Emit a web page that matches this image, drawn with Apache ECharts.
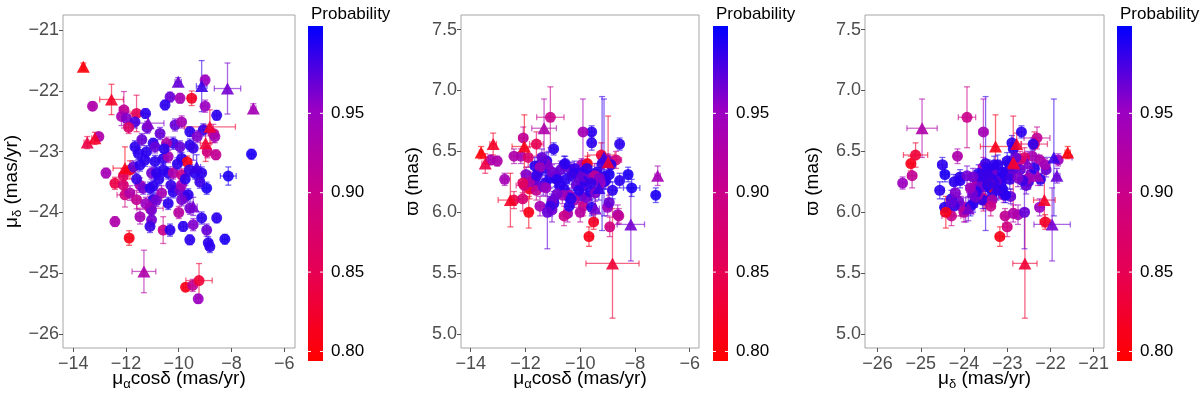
<!DOCTYPE html>
<html>
<head>
<meta charset="utf-8">
<script src="https://cdn.jsdelivr.net/npm/echarts@6.0.0/dist/echarts.min.js"></script>
<style>
  html, body { margin: 0; padding: 0; background: #fff; }
  #chart { width: 1200px; height: 393px; }
</style>
</head>
<body>
<div id="chart"></div>
<script>
// one row per star
const pmra = [-13.62,-13.27,-12.55,-13.47,-13.18,-13.03,-12.08,-12.17,-11.98,-11.60,-11.26,-11.66,-11.16,-10.02,-9.13,-9.00,-8.15,-10.33,-9.95,-10.52,
  -9.51,-9.00,-8.56,-7.17,-10.14,-9.89,-9.58,-9.07,-8.82,-8.69,-8.63,-9.58,-8.98,-8.92,-8.59,-10.21,-10.46,-9.95,-11.66,-11.53,
  -11.22,-10.97,-10.90,-11.28,-10.90,-10.59,-10.40,-9.89,-9.68,-9.45,-7.24,-9.32,-9.13,-9.39,-8.12,-8.94,-12.76,-12.42,-12.04,-11.85,
  -11.72,-11.47,-12.10,-12.04,-11.85,-11.60,-11.47,-11.35,-11.09,-10.97,-11.03,-10.84,-10.59,-10.40,-10.21,-9.89,-10.65,-10.97,-11.09,-11.03,
  -11.47,-11.03,-11.09,-10.21,-9.95,-9.76,-9.64,-10.40,-9.89,-10.59,-10.33,-9.83,-9.58,-9.45,-9.13,-8.94,-8.88,-8.82,-8.56,-8.25,
  -9.58,-9.45,-12.42,-11.88,-11.32,-9.74,-9.47,-9.23,-9.26,-10.71,-9.20,-9.90,-11.20,
  -12.10,-11.90,-10.75,-10.30,-10.05,-9.75,-10.85,-11.25,-10.55,-9.30,-10.00,-11.60,-9.60,-11.40];
const pmraErr = [0.06,0.08,0.45,0.12,0.12,0.10,0.15,0.12,0.15,0.25,0.10,0.10,0.60,0.12,0.20,0.10,0.50,0.10,0.10,0.10,
  0.15,0.10,0.10,0.10,0.12,0.12,0.10,0.12,0.97,0.20,0.12,0.12,0.20,0.12,0.10,0.12,0.12,0.10,0.12,0.12,
  0.12,0.10,0.12,0.12,0.12,0.12,0.12,0.12,0.15,0.12,0.10,0.15,0.12,0.12,0.30,0.10,0.10,0.15,0.45,0.20,
  0.12,0.12,0.15,0.30,0.15,0.15,0.12,0.12,0.12,0.12,0.12,0.12,0.12,0.12,0.12,0.12,0.15,0.12,0.50,0.12,
  0.15,0.12,0.12,0.12,0.12,0.12,0.12,0.12,0.12,0.15,0.12,0.12,0.10,0.12,0.12,0.12,0.12,0.12,0.10,0.10,
  0.12,0.15,0.10,0.12,0.45,0.10,0.10,0.50,0.10,0.12,0.12,0.12,0.12,
  0.15,0.12,0.12,0.12,0.12,0.12,0.12,0.12,0.12,0.12,0.12,0.12,0.12,0.12];
const pmdec = [-21.60,-22.25,-22.14,-22.85,-22.78,-22.75,-22.31,-22.42,-22.45,-22.37,-22.37,-22.51,-22.53,-21.85,-21.92,-21.82,-21.96,-22.10,-22.12,-22.23,
  -22.12,-22.25,-22.40,-22.29,-22.56,-22.51,-22.67,-22.64,-22.59,-22.70,-22.75,-22.89,-22.86,-23.00,-23.05,-22.86,-22.86,-22.92,-22.92,-23.03,
  -23.00,-22.86,-22.92,-23.14,-23.16,-23.11,-23.08,-23.11,-23.17,-22.94,-23.04,-23.25,-23.35,-23.35,-23.40,-23.60,-23.35,-23.52,-23.27,-23.30,
  -23.25,-23.22,-23.55,-23.71,-23.68,-23.79,-23.55,-23.60,-23.60,-23.57,-23.35,-23.35,-23.30,-23.35,-23.35,-23.38,-23.68,-23.79,-23.93,-23.96,
  -24.07,-24.12,-24.23,-23.66,-23.63,-23.74,-23.71,-23.85,-23.79,-24.29,-24.29,-24.23,-24.45,-24.20,-24.09,-24.29,-24.50,-24.56,-24.09,-24.44,
  -23.93,-23.90,-24.15,-24.42,-24.97,-25.23,-25.20,-25.12,-25.42,-22.70,-23.50,-23.55,-22.60,
  -23.40,-22.60,-23.45,-23.55,-23.20,-23.45,-23.80,-23.85,-22.95,-22.75,-24.00,-23.45,-23.30,-22.80];
const pmdecErr = [0.06,0.07,0.25,0.10,0.10,0.06,0.30,0.15,0.10,0.30,0.08,0.10,0.15,0.07,0.42,0.08,0.42,0.08,0.08,0.08,
  0.12,0.10,0.08,0.08,0.10,0.10,0.08,0.10,0.28,0.15,0.10,0.10,0.30,0.10,0.08,0.10,0.10,0.10,0.10,0.10,
  0.10,0.08,0.10,0.10,0.10,0.10,0.10,0.10,0.10,0.20,0.08,0.20,0.10,0.10,0.15,0.10,0.08,0.10,0.35,0.15,
  0.10,0.10,0.15,0.20,0.12,0.15,0.12,0.10,0.10,0.10,0.10,0.10,0.10,0.10,0.10,0.10,0.12,0.10,0.20,0.10,
  0.12,0.10,0.10,0.10,0.10,0.10,0.10,0.10,0.10,0.22,0.10,0.08,0.08,0.10,0.10,0.10,0.10,0.10,0.08,0.08,
  0.10,0.15,0.08,0.12,0.35,0.06,0.10,0.28,0.07,0.10,0.10,0.10,0.10,
  0.12,0.10,0.10,0.10,0.10,0.10,0.10,0.10,0.10,0.10,0.10,0.10,0.10,0.10];
const plx = [6.49,6.43,6.10,6.40,6.56,6.42,6.61,6.46,6.31,6.56,6.36,6.25,6.40,6.30,6.45,6.43,5.90,6.35,6.39,6.27,
  5.92,6.04,6.56,6.30,6.22,6.28,6.66,6.26,5.58,6.43,5.98,6.57,6.41,5.88,5.97,6.36,5.99,6.13,6.38,6.33,
  6.42,6.52,6.30,6.24,6.28,6.19,6.14,6.33,5.80,6.27,6.14,6.20,6.25,6.33,6.20,6.31,6.27,6.10,6.54,6.19,
  6.25,6.39,6.11,6.22,6.25,6.18,6.37,6.21,6.28,6.10,6.33,6.27,6.39,6.12,6.10,6.05,6.14,6.07,6.78,6.02,
  6.05,6.09,6.05,6.32,6.21,6.12,6.17,6.05,6.29,5.97,6.11,6.25,6.04,6.16,6.29,6.08,6.39,6.18,6.26,6.31,
  6.30,6.03,6.46,6.00,6.69,6.40,6.30,6.47,6.24,6.35,6.40,6.66,6.00,
  6.24,6.45,6.22,6.30,6.18,6.36,6.15,6.20,6.40,6.28,6.00,6.30,6.24,6.45];
const plxErr = [0.05,0.04,0.22,0.08,0.09,0.04,0.09,0.06,0.06,0.10,0.05,0.06,0.10,0.06,0.48,0.05,0.30,0.06,0.05,0.05,
  0.06,0.07,0.05,0.08,0.07,0.06,0.05,0.07,0.45,0.07,0.08,0.06,0.38,0.08,0.06,0.06,0.07,0.06,0.07,0.06,
  0.07,0.05,0.06,0.06,0.07,0.06,0.06,0.07,0.08,0.08,0.06,0.10,0.06,0.07,0.07,0.06,0.05,0.07,0.26,0.08,
  0.07,0.08,0.10,0.09,0.08,0.08,0.08,0.07,0.08,0.07,0.06,0.07,0.07,0.07,0.06,0.08,0.07,0.07,0.25,0.10,
  0.08,0.06,0.08,0.07,0.08,0.08,0.07,0.08,0.07,0.08,0.07,0.06,0.07,0.07,0.06,0.06,0.06,0.07,0.06,0.06,
  0.08,0.10,0.06,0.13,0.24,0.06,0.10,0.10,0.05,0.07,0.55,0.27,0.30,
  0.08,0.08,0.07,0.07,0.07,0.07,0.07,0.07,0.06,0.07,0.08,0.08,0.07,0.07];
const prob = [0.80,0.93,0.82,0.84,0.82,0.93,0.91,0.94,0.96,0.85,0.99,0.98,0.96,0.97,0.985,0.95,0.965,0.97,0.94,0.99,
  0.82,0.95,0.99,0.94,0.97,0.94,0.99,0.985,0.83,0.89,0.94,0.99,0.83,0.89,0.91,0.985,0.93,0.97,0.99,0.99,
  0.99,0.99,0.97,0.99,0.99,0.99,0.94,0.99,0.81,0.985,0.995,0.985,0.99,0.99,0.995,0.995,0.94,0.84,0.81,0.82,
  0.97,0.99,0.88,0.89,0.93,0.91,0.94,0.965,0.99,0.99,0.965,0.99,0.99,0.99,0.93,0.90,0.94,0.99,0.90,0.965,
  0.94,0.965,0.985,0.99,0.965,0.965,0.99,0.99,0.965,0.90,0.99,0.99,0.99,0.96,0.99,0.97,0.99,0.99,0.99,0.995,
  0.965,0.965,0.93,0.81,0.93,0.81,0.91,0.83,0.95,0.97,0.985,0.94,0.97,
  0.86,0.87,0.99,0.985,0.99,0.99,0.965,0.95,0.99,0.96,0.92,0.985,0.985,0.97];
// 't' = triangle, 'c' = circle
const shape = ['t','c','t','t','t','c','c','c','c','c','c','c','t','t','t','c','t','c','c','c',
  'c','c','c','t','c','c','c','c','t','c','c','c','t','c','c','c','c','c','c','c',
  'c','c','c','c','c','c','c','c','c','c','c','t','c','c','c','c','c','c','t','c',
  'c','c','c','c','c','c','c','c','c','c','c','c','c','c','c','c','c','c','c','c',
  'c','c','c','c','c','c','c','c','c','c','c','c','c','c','c','c','c','c','c','c',
  'c','t','c','c','t','c','c','c','c','c','c','c','c',
  'c','c','c','c','c','c','c','c','c','c','c','c','c','c'];

const probTicks = [0.80, 0.85, 0.90, 0.95];
const probMin = 0.794, probMax = 1.005;
const probColors = ['#FF0000', '#E8004F', '#CA0088', '#9A00C3', '#0000FF'];

const pmraTicks = [-14, -12, -10, -8, -6];
const pmdecTicks = [-26, -25, -24, -23, -22, -21];
const plxTicks = [5.0, 5.5, 6.0, 6.5, 7.0, 7.5];

const FONT = 'Liberation Sans, Arial, sans-serif';
const minus = v => String(v).replace('-', '\u2212');

function rows(xs, xe, ys, ye, want) {
  const out = [];
  for (let i = 0; i < xs.length; i++) {
    if (want && shape[i] !== want) continue;
    out.push([xs[i], ys[i], xe[i], ye[i], prob[i]]);
  }
  return out;
}

const nameStyle = {
  color: '#000', fontFamily: FONT, fontSize: 19,
  rich: {
    n: { fontFamily: FONT, fontSize: 19, lineHeight: 24, color: '#000' },
    s: { fontFamily: FONT, fontSize: 13, lineHeight: 14, verticalAlign: 'bottom', color: '#000' }
  }
};

function valueAxis(gridIndex, min, max, ticks, fmt, name, gap, isY) {
  return {
    type: 'value', gridIndex, min, max,
    axisLine: { show: false },
    splitLine: { show: false },
    axisTick: { show: true, length: 4, customValues: ticks, lineStyle: { color: '#555' } },
    axisLabel: { customValues: ticks, formatter: fmt, color: '#4d4d4d', fontSize: 18, fontFamily: FONT, margin: isY ? 4 : 7 },
    name, nameLocation: 'middle', nameGap: gap, nameRotate: isY ? 90 : 0,
    nameMoveOverlap: false,
    nameTextStyle: nameStyle
  };
}

function renderErr(params, api) {
  const x = api.value(0), y = api.value(1), ex = api.value(2), ey = api.value(3);
  const c = api.coord([x, y]);
  const l = api.coord([x - ex, y]), r = api.coord([x + ex, y]);
  const t = api.coord([x, y + ey]), b = api.coord([x, y - ey]);
  const cap = 3;
  const style = { stroke: api.visual('color'), lineWidth: 1.3, opacity: 0.6 };
  const ln = (x1, y1, x2, y2) => ({ type: 'line', shape: { x1, y1, x2, y2 }, style });
  return {
    type: 'group',
    children: [
      ln(l[0], c[1], r[0], c[1]),
      ln(l[0], c[1] - cap, l[0], c[1] + cap),
      ln(r[0], c[1] - cap, r[0], c[1] + cap),
      ln(c[0], t[1], c[0], b[1]),
      ln(c[0] - cap, t[1], c[0] + cap, t[1]),
      ln(c[0] - cap, b[1], c[0] + cap, b[1])
    ]
  };
}

function renderBar(params, api) {
  const tl = api.coord([0, probMax]), br = api.coord([1, probMin]);
  const grad = new echarts.graphic.LinearGradient(0, 0, 0, 1,
    probColors.slice().reverse().map((c, i) => ({ offset: i / (probColors.length - 1), color: c })));
  const children = [{ type: 'rect', shape: { x: tl[0], y: tl[1], width: br[0] - tl[0], height: br[1] - tl[1] }, style: { fill: grad } }];
  probTicks.forEach(v => {
    const p = api.coord([0, v]);
    children.push({ type: 'line', shape: { x1: tl[0], y1: p[1], x2: tl[0] + 3, y2: p[1] }, style: { stroke: '#fff', lineWidth: 1 } });
    children.push({ type: 'line', shape: { x1: br[0] - 3, y1: p[1], x2: br[0], y2: p[1] }, style: { stroke: '#fff', lineWidth: 1 } });
  });
  return { type: 'group', children };
}

const panels = [
  { x: pmra, xe: pmraErr, y: pmdec, ye: pmdecErr },
  { x: pmra, xe: pmraErr, y: plx, ye: plxErr },
  { x: pmdec, xe: pmdecErr, y: plx, ye: plxErr }
];

const series = [];
panels.forEach((p, k) => {
  series.push({ type: 'custom', xAxisIndex: k, yAxisIndex: k, renderItem: renderErr, clip: true,
    encode: { x: 0, y: 1 }, data: rows(p.x, p.xe, p.y, p.ye), z: 1 });
  series.push({ type: 'scatter', xAxisIndex: k, yAxisIndex: k, symbol: 'circle', symbolSize: 11,
    itemStyle: { opacity: 0.9 }, data: rows(p.x, p.xe, p.y, p.ye, 'c'), z: 2 });
  series.push({ type: 'scatter', xAxisIndex: k, yAxisIndex: k, symbol: 'triangle', symbolSize: [13, 12],
    itemStyle: { opacity: 0.9 }, data: rows(p.x, p.xe, p.y, p.ye, 't'), z: 3 });
});
[3, 4, 5].forEach(g => {
  series.push({ type: 'custom', xAxisIndex: g, yAxisIndex: g, renderItem: renderBar, data: [[0.5, 0.9]], silent: true });
});

const gridBase = { show: true, borderColor: '#a6a6a6', borderWidth: 1, backgroundColor: 'transparent',
  containLabel: false, outerBoundsMode: 'none' };
const cbAxes = (g) => ({
  x: { type: 'value', gridIndex: g, min: 0, max: 1, show: false },
  y: { type: 'value', gridIndex: g, min: probMin, max: probMax, position: 'right',
    axisLine: { show: false }, axisTick: { show: false }, splitLine: { show: false },
    axisLabel: { customValues: probTicks, formatter: v => v.toFixed(2), color: '#000', fontSize: 17, fontFamily: FONT, margin: 8 } }
});

const xName1 = '{n|μ}{s|α}{n|cosδ (mas/yr)}';
const yName1 = '{n|μ}{s|δ}{n| (mas/yr)}';
const plxName = '{n|\u03D6 (mas)}';

const chart = echarts.init(document.getElementById('chart'), null, { renderer: 'canvas' });
chart.setOption({
  animation: false,
  backgroundColor: '#fff',
  textStyle: { fontFamily: FONT },
  title: [306, 711, 1115].map(left => ({ text: 'Probability', left, top: 1,
    textStyle: { fontFamily: FONT, fontSize: 17, fontWeight: 'normal', color: '#000' } })),
  grid: [
    Object.assign({ left: 63, top: 15, width: 232, height: 333 }, gridBase),
    Object.assign({ left: 461, top: 15, width: 238, height: 333 }, gridBase),
    Object.assign({ left: 865, top: 15, width: 239, height: 333 }, gridBase),
    { left: 308, top: 26, width: 15, height: 335, show: false, outerBoundsMode: 'none' },
    { left: 713, top: 26, width: 15, height: 335, show: false, outerBoundsMode: 'none' },
    { left: 1117, top: 26, width: 15, height: 335, show: false, outerBoundsMode: 'none' }
  ],
  xAxis: [
    valueAxis(0, -14.39, -5.59, pmraTicks, minus, xName1, 19, false),
    valueAxis(1, -14.355, -5.66, pmraTicks, minus, xName1, 19, false),
    valueAxis(2, -26.29, -20.76, pmdecTicks, minus, yName1, 19, false),
    cbAxes(3).x, cbAxes(4).x, cbAxes(5).x
  ],
  yAxis: [
    valueAxis(0, -26.23, -20.75, pmdecTicks, minus, yName1, 39, true),
    valueAxis(1, 4.885, 7.62, plxTicks, v => v.toFixed(1), plxName, 36, true),
    valueAxis(2, 4.885, 7.62, plxTicks, v => v.toFixed(1), plxName, 40, true),
    cbAxes(3).y, cbAxes(4).y, cbAxes(5).y
  ],
  visualMap: {
    type: 'continuous', show: false, min: probMin, max: probMax, dimension: 4,
    seriesIndex: [0, 1, 2, 3, 4, 5, 6, 7, 8],
    inRange: { color: probColors }
  },
  series
});
</script>
</body>
</html>
